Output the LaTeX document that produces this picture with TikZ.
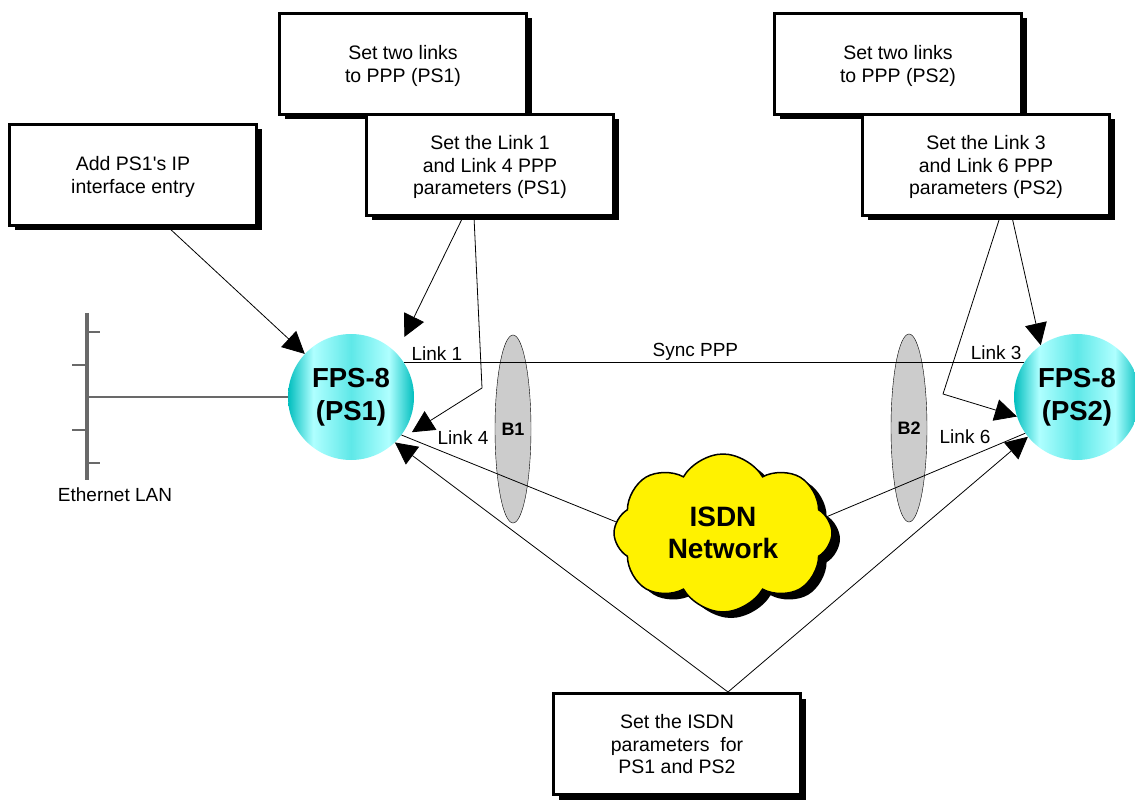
\documentclass[tikz,border=0pt]{standalone}
\usepackage{fontspec}
\setmainfont{Liberation Sans}
\usetikzlibrary{shapes.geometric,shapes.symbols,shadows,arrows.meta}

\definecolor{fpsdark}{RGB}{0,190,190}
\definecolor{fpslight}{RGB}{175,255,255}
\definecolor{fpsmid}{RGB}{95,232,232}
\definecolor{chgray}{RGB}{204,204,204}
\definecolor{langray}{RGB}{105,105,105}
\pgfdeclarehorizontalshading{fpsball}{100bp}{color(0bp)=(fpsdark); color(25bp)=(fpsdark); color(35bp)=(fpslight); color(50bp)=(fpsmid); color(65bp)=(fpslight); color(75bp)=(fpsdark); color(100bp)=(fpsdark)}

\begin{document}
\begin{tikzpicture}[
x=1pt,y=-1pt,
task/.style={
  draw,
  line width=3pt,
  fill=white,
  minimum width=247pt,
  minimum height=101pt,
  text depth=-10pt,
  align=center,
  font=\fontsize{19.5}{22.5}\selectfont,
  drop shadow={shadow xshift=5pt,shadow yshift=-5pt,fill=black,opacity=1}
  },
fps/.style={
  circle,
  minimum size=126pt,
  inner sep=0pt,
  shading=fpsball,
  align=center,
  font=\fontsize{27.5}{33}\selectfont\bfseries
  },
chan/.style={
  ellipse,
  draw,
  fill=chgray,
  minimum width=36pt,
  minimum height=188pt,
  inner sep=0pt,
  font=\fontsize{18}{20}\selectfont\bfseries
  },
lbl/.style={
  font=\fontsize{19}{22}\selectfont,
  inner sep=2pt
  },
wire/.style={line width=0.8pt},
lanwire/.style={draw=langray,line width=1.2pt},
>={Triangle[length=22pt,width=22pt]}
]
\useasboundingbox (0,0) rectangle (1135,802);

% task boxes
\node[task] (two1) at (403,64) {Set two links\\to PPP (PS1)};
\node[task] (l14) at (490,165) {Set the Link 1\\and Link 4 PPP\\parameters (PS1)};
\node[task] (ip) at (133,175) {Add PS1\textquotesingle s IP\\interface entry};
\node[task] (two2) at (898,64) {Set two links\\to PPP (PS2)};
\node[task] (l36) at (986,165) {Set the Link 3\\and Link 6 PPP\\parameters (PS2)};
\node[task] (isdnbox) at (677,744) {Set the ISDN\\parameters~ for\\PS1 and PS2};

% B channels
\node[chan] (b1) at (513,429) {B1};
\node[chan] (b2) at (909,428) {B2};

% the two FPS-8
\node[fps] (ps1) at (351,397) {FPS-8\\(PS1)};
\node[fps] (ps2) at (1077,397) {FPS-8\\(PS2)};

% ISDN cloud
\node[cloud, cloud puffs=8, cloud puff arc=120, aspect=1.4,
  draw, line width=1.5pt, fill=yellow,
  minimum width=218pt, minimum height=158pt, inner sep=0pt,
  align=center, font=\fontsize{28}{32}\selectfont\bfseries,
  drop shadow={shadow xshift=8pt,shadow yshift=-6pt,fill=black,opacity=1}]
  (isdn) at (723,533) {ISDN\\Network};

% Ethernet LAN
\coordinate (lantop) at (87,313);
\coordinate (lanbot) at (87,480);
\coordinate (lantap) at (87,397);
\draw[draw=langray,line width=4pt] (lantop) -- (lanbot);
\foreach \ty/\tx in {332/13,365/-15,430/-15,463/13}
  \draw[lanwire] (87,\ty) -- ++(\tx,0);
\draw[lanwire] (lantap) -- (ps1.west);
\node[lbl] (lanlbl) at (115,495) {Ethernet LAN};

% links
\draw[wire] (ps1.33) -- node[lbl,pos=0.053,above] (link1) {Link 1}
  node[lbl,pos=0.47,above] (sync) {Sync PPP}
  node[lbl,pos=0.955,above] (link3) {Link 3} (ps2.147);
\draw[wire] (ps1.-37) -- (isdn.174);
\draw[wire] (isdn.9) -- (ps2.215);
\node[lbl] (link4) at (463,438) {Link 4};
\node[lbl] (link6) at (965,437) {Link 6};

% configuration arrows
\coordinate (bend1) at (482,388);
\coordinate (bend2) at (943,394);
\draw[wire,->] ([xshift=35pt]ip.south) -- (ps1.137);
\draw[wire,->,shorten >=18pt] ([xshift=-27pt]l14.south) -- (ps1.44);
\draw[wire,->,shorten >=22pt] ([xshift=-16pt]l14.south) -- (bend1) -- (ps1.-48);
\draw[wire,->] ([xshift=26pt]l36.south) -- (ps2.125);
\draw[wire,->] ([xshift=14pt]l36.south) -- (bend2) -- (ps2.198);
\draw[wire,->] ([xshift=51pt]isdnbox.north) -- (ps1.-46);
\draw[wire,->] ([xshift=51pt]isdnbox.north) -- (ps2.219);
\end{tikzpicture}
\end{document}
